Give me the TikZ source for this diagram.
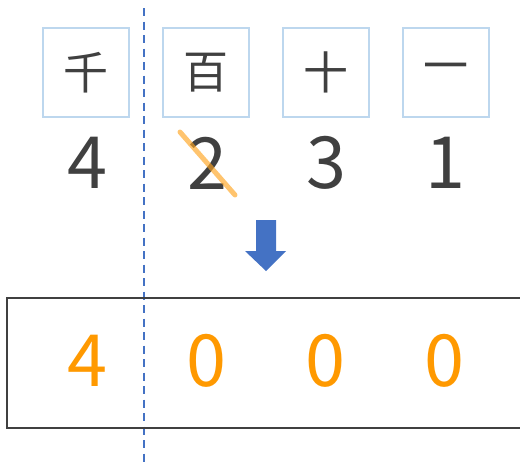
\documentclass[tikz,border=0pt]{standalone}
\usepackage{fontspec}
\newfontfamily\jpfont{Noto Sans CJK JP}
\definecolor{boxblue}{HTML}{BDD7EE}
\definecolor{dashblue}{HTML}{4472C4}
\definecolor{digitgray}{HTML}{404040}
\definecolor{resorange}{HTML}{FF9900}
\definecolor{strikeorange}{HTML}{FFA520}
\tikzset{
  placebox/.style={draw=boxblue, line width=2pt, minimum width=86pt, minimum height=89pt, inner sep=0pt, font=\jpfont\fontsize{45}{45}\selectfont, text=digitgray},
  digit/.style={inner sep=0pt, font=\jpfont\fontsize{72}{72}\selectfont, text=digitgray},
  resdigit/.style={inner sep=0pt, font=\jpfont\fontsize{72}{72}\selectfont, text=resorange},
}
\begin{document}
\begin{tikzpicture}[x=1pt,y=-1pt]
\useasboundingbox (0,0) rectangle (520,464);
% place value boxes
\node[placebox] (sen) at (85.5,72.5) {千};
\node[placebox] (hyaku) at (206,72.5) {百};
\node[placebox] (juu) at (326,72.5) {十};
\node[placebox] (ichi) at (446,72.5) {一};
% digits
\node[digit] (d1) at (87,163) {4};
\node[digit] (d2) at (207,163) {2};
\node[digit] (d3) at (326,163) {3};
\node[digit] (d4) at (445,163) {1};
% strike
\coordinate (s1) at (180,132);
\coordinate (s2) at (235,195);
\draw[strikeorange, opacity=0.65, line width=5pt, line cap=round] (s1) -- (s2);
% dashed line
\coordinate (dtop) at (144,8);
\coordinate (dbot) at (144,464);
\draw[dashblue, line width=2pt, dash pattern=on 8pt off 5.5pt] (dtop) -- (dbot);
% arrow
\fill[dashblue] (256,220) -- (276,220) -- (276,251) -- (286,251) -- (266,271) -- (245,251) -- (256,251) -- cycle;
% result box
\coordinate (r1) at (524,298);
\coordinate (r2) at (7,298);
\coordinate (r3) at (7,428);
\coordinate (r4) at (524,428);
\draw[digitgray, line width=2pt] (r1) -- (r2) -- (r3) -- (r4);
% result digits
\node[resdigit] (e1) at (87,361) {4};
\node[resdigit] (e2) at (206,361) {0};
\node[resdigit] (e3) at (325.5,361) {0};
\node[resdigit] (e4) at (444.7,361) {0};
\end{tikzpicture}
\end{document}
